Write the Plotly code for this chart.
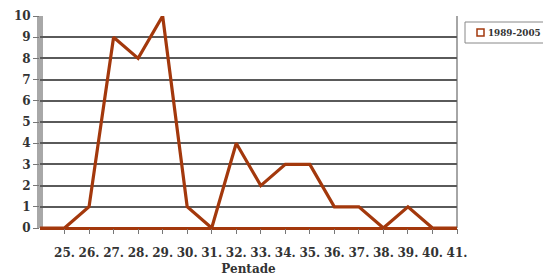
import plotly.graph_objects as go

pentades = list(range(24, 42))
counts = [0, 0, 1, 9, 8, 10, 1, 0, 4, 2, 3, 3, 1, 1, 0, 1, 0, 0]
tick_vals = list(range(25, 42))
tick_text = [f"<b>{v}.</b>" for v in tick_vals]
y_ticks = list(range(0, 11))
y_text = [f"<b>{v}</b>" for v in y_ticks]
series_name = "1989-2005"

brown = "#A3380C"
ffam = "DejaVu Serif"
tcol = "#333333"

# page body has an 8px offset; figure sized to compensate
W, H = 543, 268
L, T, R, B = 32, 8, 94, 48
pw, ph = W - L - R, H - T - B


def px(x):
    return (x - L) / pw


def py(y):
    return 1 - (y - T) / ph


fig = go.Figure()
fig.add_trace(go.Scatter(x=pentades, y=counts, mode="lines", name=series_name,
                         line=dict(color=brown, width=3.2), showlegend=False))

fig.update_layout(
    width=W, height=H,
    margin=dict(l=L, r=R, t=T, b=B, autoexpand=False),
    paper_bgcolor="white", plot_bgcolor="white",
    font=dict(family=ffam, size=12, color=tcol),
    showlegend=False,
    xaxis=dict(range=[24, 41], tickvals=tick_vals, ticktext=tick_text,
               tickfont=dict(family=ffam, size=12, color=tcol),
               ticks="outside", ticklen=5, tickcolor="#777777",
               ticklabelstandoff=9,
               showgrid=False, zeroline=False, showline=False, automargin=False,
               title=dict(text="<b>Pentade</b>", font=dict(family=ffam, size=12, color=tcol), standoff=6)),
    yaxis=dict(range=[0, 10], tickvals=y_ticks, ticktext=y_text,
               showgrid=True, gridcolor="#5a5a5a", gridwidth=1.5,
               tickfont=dict(family=ffam, size=12, color=tcol),
               ticks="outside", ticklen=6, tickcolor="#777777",
               zeroline=True, zerolinecolor=brown, zerolinewidth=3,
               showline=False, automargin=False),
)

# 3D-style side wall and right border
fig.add_shape(type="rect", xref="paper", yref="paper", x0=px(29), x1=px(35), y0=0, y1=1,
              fillcolor="#a8a8a8", line=dict(width=0), layer="below")
fig.add_shape(type="line", xref="paper", yref="paper", x0=1, x1=1, y0=0, y1=1,
              line=dict(color="#888888", width=1.5), layer="below")

# legend box
fig.add_shape(type="rect", xref="paper", yref="paper", x0=px(457), x1=px(537), y0=py(35), y1=py(14),
              fillcolor="white", line=dict(color="#888888", width=1))
fig.add_shape(type="rect", xref="paper", yref="paper", x0=px(469), x1=px(476), y0=py(28), y1=py(21),
              fillcolor="white", line=dict(color=brown, width=1.5))
fig.add_annotation(xref="paper", yref="paper", x=px(478), y=py(24.5), xanchor="left", yanchor="middle",
                   text=f"<b>{series_name}</b>", showarrow=False,
                   font=dict(family=ffam, size=8.8, color=tcol))

fig.write_html("out.html")
